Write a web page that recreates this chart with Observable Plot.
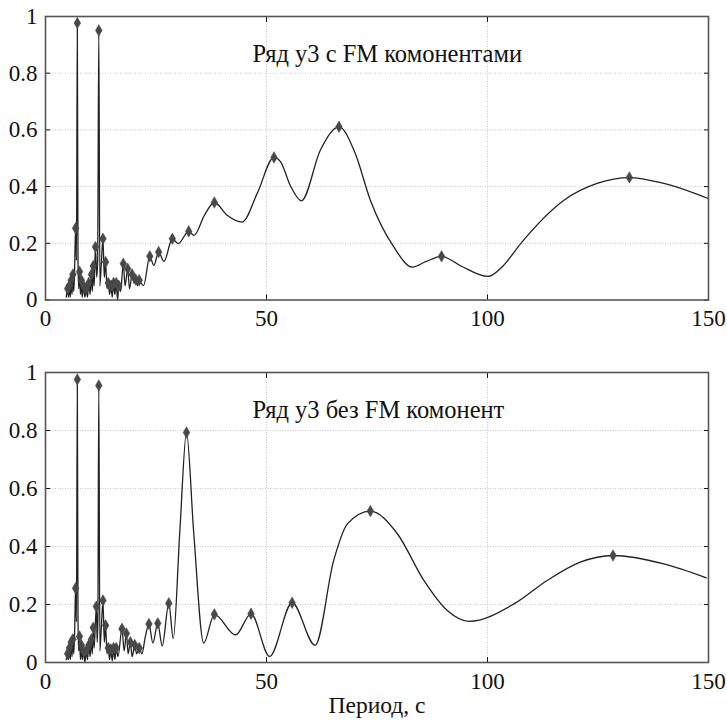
<!DOCTYPE html>
<html><head><meta charset="utf-8">
<script src="https://cdn.jsdelivr.net/npm/d3@7"></script>
<script src="https://cdn.jsdelivr.net/npm/@observablehq/plot@0.6"></script>
<style>body{margin:0;background:#fff;} #c{width:727px;} svg{display:block} svg text{font-family:"Liberation Serif", "Times New Roman", serif !important;}
g[aria-label$="tick label"], g[aria-label$="tick label"] text{font-size:23px !important;}</style>
</head><body><div id="c"></div>
<script>
const xTicks = [0, 50, 100, 150];
const yTicks = [0, 0.2, 0.4, 0.6, 0.8, 1];
const titleTop = "Ряд y3 с FM комонентами";
const titleBottom = "Ряд y3 без FM комонент";
const xLabel = "Период, с";

const periodTop = [4.7,5.0,5.2,5.4,5.6,5.8,6.0,6.2,6.4,6.6,6.8,7.0,7.2,7.35,7.5,7.7,7.9,8.1,8.3,8.6,8.9,9.2,9.5,9.8,10.1,10.4,10.6,10.8,11.0,11.3,11.6,11.8,12.06,12.3,12.6,13.0,13.3,13.6,13.9,14.2,14.5,14.8,15.1,15.4,15.7,16.0,16.3,16.6,17.0,17.6,18.0,18.6,19.0,19.6,20.0,20.4,20.8,21.2,21.6,22.2,
  23.6,24.5,25.6,26.8,28.7,30.0,32.4,33.6,36.0,38.2,41.1,44.5,47.9,51.7,53.2,55.5,57.9,62.2,66.4,70.0,73.5,78.8,83.0,86.0,89.6,94.0,100.1,103.5,107.5,117.3,124.8,132.1,139.9,149.9];
const powerTop = [0.01,0.04,0.01,0.05,0.01,0.07,0.02,0.09,0.03,0.12,0.253,0.14,0.977,0.15,0.04,0.10,0.02,0.07,0.01,0.05,0.01,0.04,0.01,0.06,0.02,0.09,0.03,0.12,0.05,0.187,0.08,0.14,0.951,0.05,0.12,0.216,0.08,0.134,0.04,0.06,0.02,0.05,0.01,0.06,0.02,0.06,0.00,0.05,0.03,0.128,0.05,0.11,0.04,0.09,0.06,0.072,0.05,0.07,0.06,0.051,
  0.154,0.122,0.169,0.136,0.216,0.199,0.242,0.228,0.30,0.344,0.299,0.275,0.376,0.503,0.487,0.40,0.35,0.529,0.611,0.52,0.352,0.187,0.116,0.135,0.154,0.12,0.083,0.12,0.199,0.352,0.411,0.432,0.411,0.358];

const periodBottom = [4.7,5.0,5.2,5.4,5.6,5.8,6.0,6.2,6.4,6.6,6.8,7.0,7.2,7.35,7.5,7.7,7.9,8.1,8.3,8.6,8.9,9.2,9.5,9.8,10.1,10.4,10.6,10.8,11.0,11.5,11.7,11.85,12.06,12.3,12.6,13.0,13.3,13.6,13.9,14.2,14.5,14.8,15.1,15.4,15.7,16.0,16.4,17.3,17.8,18.3,18.7,19.2,19.6,20.2,20.6,21.2,21.8,22.6,
  23.4,24.3,25.4,26.4,27.9,28.9,30.4,31.9,33.5,35.8,38.2,43.0,46.5,50.7,55.8,61.0,65.2,68.3,73.5,79.6,85.6,90.9,95.8,106.0,113.5,121.0,128.4,139.9,149.5];
const powerBottom = [0.01,0.03,0.01,0.05,0.01,0.07,0.02,0.08,0.03,0.11,0.256,0.14,0.976,0.15,0.04,0.09,0.01,0.06,0.01,0.04,0.00,0.04,0.01,0.06,0.02,0.08,0.03,0.12,0.05,0.193,0.07,0.15,0.955,0.04,0.11,0.214,0.07,0.128,0.03,0.05,0.01,0.045,0.005,0.05,0.01,0.05,0.02,0.116,0.04,0.10,0.03,0.07,0.02,0.06,0.03,0.05,0.03,0.09,
  0.133,0.067,0.135,0.057,0.204,0.082,0.455,0.793,0.455,0.067,0.166,0.095,0.168,0.021,0.206,0.059,0.352,0.478,0.522,0.444,0.283,0.179,0.142,0.202,0.283,0.346,0.369,0.340,0.292];

function peaks(xs, ys) {
  const out = [];
  for (let i = 1; i < ys.length - 1; i++) if (ys[i] > ys[i-1] && ys[i] > ys[i+1]) out.push(i);
  return out;
}

const FF = "Liberation Serif";

function panel(xs, ys, title, o) {
  const idx = d3.range(xs.length);
  const marks = [
    Plot.gridX({ticks: xTicks.slice(1, -1), stroke: "#c8c8c8", strokeOpacity: 1, strokeDasharray: "1,1.5"}),
    Plot.gridY({ticks: yTicks.slice(1, -1), stroke: "#c8c8c8", strokeOpacity: 1, strokeDasharray: "1,1.5"}),
    Plot.axisX({ticks: xTicks, tickSize: -5, tickPadding: 15, label: null, fontSize: 23, fontFamily: FF, fill: "#111"}),
    Plot.axisX({anchor: "top", ticks: xTicks, tickSize: -5, tickFormat: () => "", label: null}),
    Plot.axisY({ticks: yTicks, tickSize: -5, tickPadding: 13, tickFormat: d => String(d), label: null, fontSize: 23, fontFamily: FF, fill: "#111"}),
    Plot.axisY({anchor: "right", ticks: yTicks, tickSize: -5, tickFormat: () => "", label: null}),
    Plot.line(idx, {x: i => xs[i], y: i => ys[i], curve: "monotone-x", stroke: "#222", strokeWidth: 1.3}),
    Plot.dot(peaks(xs, ys), {x: i => xs[i], y: i => ys[i], symbol: "diamond", r: 3.5, fill: "#484848", stroke: "#484848", strokeWidth: 0.5}),
    Plot.frame({stroke: "#555", strokeWidth: 1.6}),
    Plot.text([title], {frameAnchor: "top-left", dx: 207, dy: 28, textAnchor: "start", fontSize: 24.5, fontFamily: FF, fill: "#111"})
  ];
  if (o.xLabel) marks.push(Plot.text([o.xLabel], {frameAnchor: "bottom", dy: 50, fontSize: 23.5, fontFamily: FF, fill: "#111"}));
  return Plot.plot({
    width: 727, height: o.height,
    marginLeft: 45, marginRight: 19, marginTop: o.mt, marginBottom: o.mb,
    style: {fontFamily: FF, fontSize: "23px", color: "#111", background: "#fff"},
    x: {domain: [0, 150]},
    y: {domain: [0, 1]},
    marks
  });
}

const c = document.getElementById("c");
c.append(panel(periodTop, powerTop, titleTop, {height: 350, mt: 16, mb: 50.5}));
c.append(panel(periodBottom, powerBottom, titleBottom, {height: 375, mt: 22, mb: 63, xLabel}));
</script>
</body></html>
